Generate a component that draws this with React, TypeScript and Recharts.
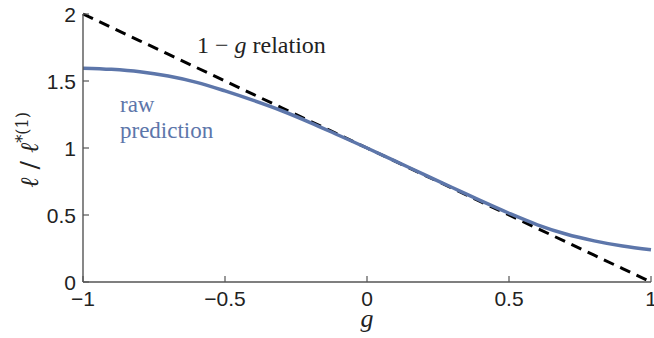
import React from "react";
import { LineChart, Line, XAxis, YAxis } from "recharts";

const gValues = [-1, -0.9, -0.8, -0.7, -0.6, -0.5, -0.4, -0.3, -0.2, -0.1, 0, 0.1, 0.2, 0.3, 0.4, 0.5, 0.6, 0.7, 0.8, 0.9, 1];
const rawPrediction = [1.596, 1.587, 1.569, 1.537, 1.49, 1.426, 1.355, 1.278, 1.19, 1.095, 1.0, 0.902, 0.803, 0.705, 0.607, 0.513, 0.427, 0.358, 0.307, 0.268, 0.24];
const relationLine = [2, 1.9, 1.8, 1.7, 1.6, 1.5, 1.4, 1.3, 1.2, 1.1, 1.0, 0.9, 0.8, 0.7, 0.6, 0.5, 0.4, 0.3, 0.2, 0.1, 0];
const xTicks = [-1, -0.5, 0, 0.5, 1];
const yTicks = [0, 0.5, 1, 1.5, 2];

const data = gValues.map((g, i) => ({ g, raw: rawPrediction[i], rel: relationLine[i] }));

const AXIS = "#555";
const BLUE = "#5d76aa";
const fmt = (v: number) => (v < 0 ? "\u2212" + String(Math.abs(v)) : String(v));

const XTick = (props: any) => {
  const { x, y, payload } = props;
  return (
    <g>
      <line x1={x} y1={y} x2={x} y2={y - 6} stroke={AXIS} strokeWidth={1.2} />
      <text x={x} y={y + 24} textAnchor="middle" fontFamily="Liberation Sans, Arial, sans-serif" fontSize={21} fill="#222">
        {fmt(payload.value)}
      </text>
    </g>
  );
};

const YTick = (props: any) => {
  const { x, y, payload } = props;
  return (
    <g>
      <line x1={x} y1={y} x2={x + 6} y2={y} stroke={AXIS} strokeWidth={1.2} />
      <text x={x - 7} y={y + 7.5} textAnchor="end" fontFamily="Liberation Sans, Arial, sans-serif" fontSize={21} fill="#222">
        {fmt(payload.value)}
      </text>
    </g>
  );
};

export default function App() {
  return (
    <div style={{ position: "absolute", left: 0, top: 0, width: 654, height: 338, background: "#fff" }}>
      <LineChart width={654} height={338} data={data} margin={{ top: 14, right: 3, left: 0, bottom: 0 }}>
        <XAxis
          dataKey="g"
          type="number"
          domain={[-1, 1]}
          ticks={xTicks}
          tickSize={0}
          tickMargin={0}
          tickLine={false}
          tick={<XTick />}
          height={56}
          stroke={AXIS}
          strokeWidth={1.4}
          interval={0}
        />
        <YAxis
          type="number"
          domain={[0, 2]}
          ticks={yTicks}
          tickSize={0}
          tickMargin={0}
          tickLine={false}
          tick={<YTick />}
          width={83}
          stroke={AXIS}
          strokeWidth={1.4}
          interval={0}
        />
        <Line dataKey="rel" type="linear" stroke="#000" strokeWidth={3} strokeDasharray="11 7" dot={false} isAnimationActive={false} />
        <Line dataKey="raw" type="monotone" stroke={BLUE} strokeWidth={3.5} dot={false} isAnimationActive={false} />
      </LineChart>
      <svg width={654} height={338} style={{ position: "absolute", left: 0, top: 0, pointerEvents: "none" }}>
        <text x={197} y={53} fontFamily="Liberation Serif, serif" fontSize={24} fill="#222">
          1 {"\u2212"} <tspan fontStyle="italic">g</tspan> relation
        </text>
        <text x={120} y={112} fontFamily="Liberation Serif, serif" fontSize={23} fill={BLUE}>raw</text>
        <text x={120} y={138} fontFamily="Liberation Serif, serif" fontSize={23} fill={BLUE}>prediction</text>
        <text x={367} y={327} textAnchor="middle" fontFamily="Liberation Serif, serif" fontStyle="italic" fontSize={26} fill="#222">g</text>
        <text x={38} y={150} transform="rotate(-90 38 150)" textAnchor="middle" fontFamily="DejaVu Serif, serif" fontSize={25} fill="#222">
          <tspan fontStyle="italic">{"\u2113"}</tspan>
          <tspan> / </tspan>
          <tspan fontStyle="italic">{"\u2113"}</tspan>
          <tspan fontSize={16} dy={-10}>*(1)</tspan>
        </text>
      </svg>
    </div>
  );
}
